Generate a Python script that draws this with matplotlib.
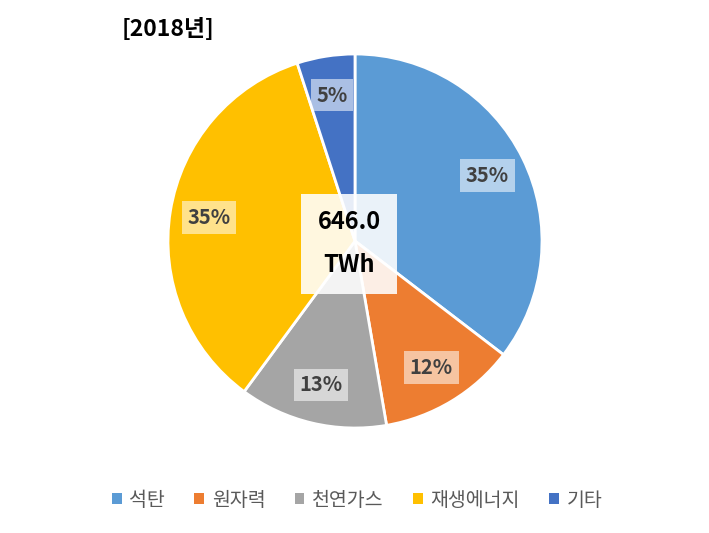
import matplotlib
matplotlib.use("Agg")
import matplotlib.pyplot as plt
from matplotlib.patches import Patch

plt.rcParams['font.family'] = ['Noto Sans CJK KR', 'DejaVu Sans']

# 2018년 발전원별 비중 (%)
labels = ['석탄', '원자력', '천연가스', '재생에너지', '기타']
shares = [35.4, 11.9, 12.8, 34.9, 5.0]
colors = ['#5B9BD5', '#ED7D31', '#A5A5A5', '#FFC000', '#4472C4']
total_text = '646.0\nTWh'
title = '[2018년]'

W, H = 709, 533
fig = plt.figure(figsize=(W / 100, H / 100), dpi=100)
cx, cy, r = 355, 241, 187
ax = fig.add_axes([(cx - r) / W, (H - cy - r) / H, 2 * r / W, 2 * r / H])

wedges, texts, autotexts = ax.pie(
    shares, colors=colors, startangle=90, counterclock=False,
    autopct='%1.0f%%', pctdistance=0.79, radius=1,
    wedgeprops=dict(edgecolor='white', linewidth=2),
    textprops=dict(fontsize=14.5, fontweight='bold', color='#404040'))
for t in autotexts:
    t.set_bbox(dict(facecolor='white', alpha=0.55, edgecolor='none', pad=4))

ax.text(-0.032, -0.016, total_text, ha='center', va='center', fontsize=17,
        fontweight='bold', color='black', linespacing=2.0,
        bbox=dict(facecolor='white', alpha=0.88, edgecolor='none', pad=12))
ax.set_xlim(-1, 1)
ax.set_ylim(-1, 1)
ax.set_aspect('equal')
ax.axis('off')

fig.text(122 / W, 1 - 30 / H, title, ha='left', va='center',
         fontsize=16.5, fontweight='bold', color='black')

handles = [Patch(facecolor=c, edgecolor='none') for c in colors]
leg = fig.legend(handles, labels, loc='center', bbox_to_anchor=(357 / W, 1 - 500 / H),
                 ncol=5, frameon=False, fontsize=14, handlelength=0.5,
                 handleheight=0.5, handletextpad=0.4, columnspacing=1.5)
for t in leg.get_texts():
    t.set_color('#595959')

fig.savefig('out.png', dpi=100, facecolor='white')
